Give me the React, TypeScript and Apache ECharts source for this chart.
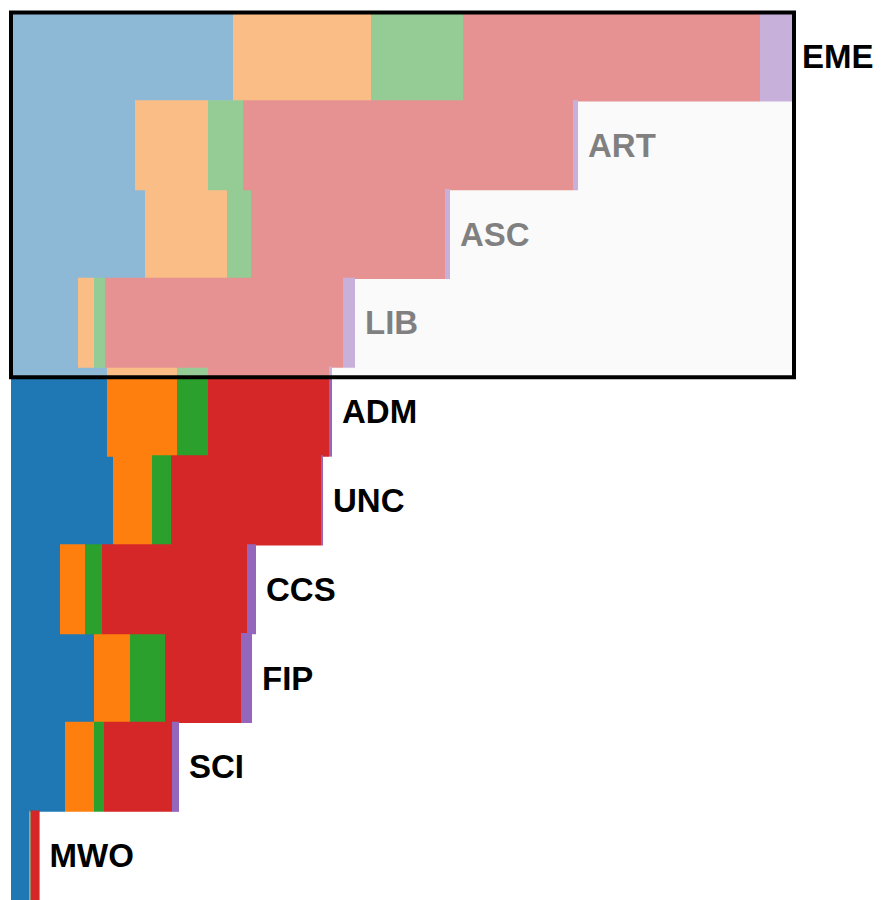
import React, { useEffect, useRef } from "react";
import * as echarts from "echarts";

const categories = ["EME", "ART", "ASC", "LIB", "ADM", "UNC", "CCS", "FIP", "SCI", "MWO"];
const seriesNames = ["A", "B", "C", "D", "E"];
const blueValues = [111, 62, 67, 33.5, 48, 51, 24.5, 41.5, 27, 9];
const orangeValues = [69, 36.5, 41, 8, 35, 19.5, 12.5, 18, 14.5, 0.4];
const greenValues = [46, 17.5, 12, 5.5, 15.5, 9.5, 8.5, 17.5, 5, 0.4];
const redValues = [148.5, 165, 97, 119, 60.5, 75, 72.5, 38, 34, 4.5];
const purpleValues = [16, 2.5, 2.5, 6, 1.5, 1, 4.5, 5.5, 3.5, 0];
const colors = ["#1f77b4", "#ff7f0e", "#2ca02c", "#d62728", "#9467bd"];
const highlighted = ["EME", "ART", "ASC", "LIB"];

export default function App() {
  const ref = useRef<HTMLDivElement>(null);
  useEffect(() => {
    if (!ref.current) return;
    const chart = echarts.init(ref.current, null, { renderer: "svg" });
    const gridLeft = 11;
    const gridTop = 12;
    const rowH = 89.3;
    const allValues = [blueValues, orangeValues, greenValues, redValues, purpleValues];
    const series = allValues.map((vals, i) => ({
      name: seriesNames[i],
      type: "bar",
      stack: "total",
      barWidth: rowH + 0.8,
      data: vals,
      itemStyle: { color: colors[i] },
      label:
        i === 4
          ? {
              show: true,
              position: "right",
              distance: 10,
              formatter: (p: any) => p.name,
              fontSize: 33,
              fontWeight: "bold",
              fontFamily: "Liberation Sans, Arial, sans-serif",
              color: "#000",
            }
          : { show: false },
    }));
    chart.setOption({
      animation: false,
      grid: { left: gridLeft, top: gridTop, width: 800, height: rowH * categories.length },
      xAxis: { type: "value", min: 0, max: 400, show: false },
      yAxis: { type: "category", data: categories, inverse: true, show: false },
      series,
    });
    const firstIdx = categories.indexOf(highlighted[0]);
    const lastIdx = categories.indexOf(highlighted[highlighted.length - 1]);
    const emeTotal = allValues.reduce((s, a) => s + a[firstIdx], 0);
    const rightPx = chart.convertToPixel({ xAxisIndex: 0 }, emeTotal) as number;
    const topPx = gridTop + firstIdx * rowH + 0.5;
    const bottomPx = gridTop + (lastIdx + 1) * rowH + 8;
    chart.setOption({
      graphic: [
        {
          type: "rect",
          z: 100,
          shape: { x: gridLeft, y: topPx, width: rightPx + 2 - gridLeft, height: bottomPx - topPx },
          style: { fill: "rgba(245,245,245,0.52)", stroke: "#000", lineWidth: 4 },
        },
      ],
    });
    return () => chart.dispose();
  }, []);
  return (
    <div
      ref={ref}
      style={{ position: "absolute", left: 0, top: 0, width: 881, height: 900 }}
    />
  );
}
